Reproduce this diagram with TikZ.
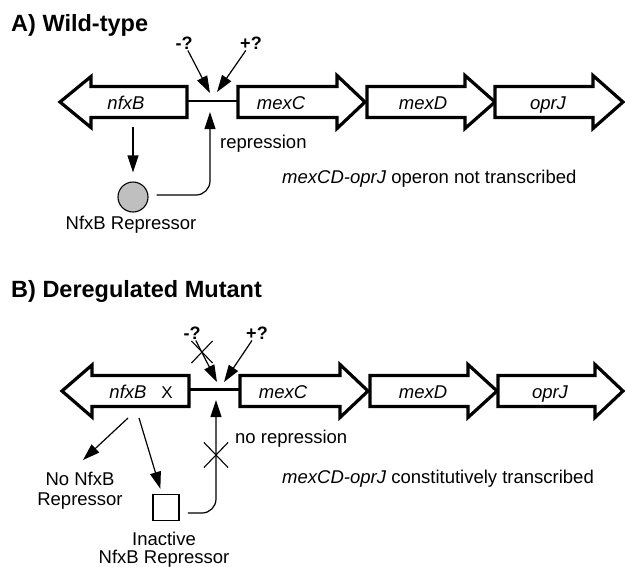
\documentclass[tikz,border=0pt]{standalone}
\usepackage{fontspec}
\setmainfont{Liberation Sans}
\usetikzlibrary{arrows.meta,shapes.misc}

\tikzset{
  gene/.style={draw, line width=3.2pt, fill=white},
  spacer/.style={line width=2.4pt},
  link/.style={line width=1.2pt, -{Triangle[length=17pt,width=11pt]}},
  txt/.style={font=\fontsize{18.5}{20}\selectfont, inner sep=0pt},
  gname/.style={txt, font=\fontsize{18.5}{20}\selectfont\itshape, anchor=base},
  effect/.style={font=\fontsize{18}{20}\selectfont\bfseries, inner sep=1pt},
  panel/.style={font=\fontsize{23.5}{26}\selectfont\bfseries, inner sep=0pt, anchor=base west},
  block/.style={cross out, draw, line width=1.1pt, inner sep=0pt},
}

\begin{document}
\begin{tikzpicture}[x=1pt, y=-1pt]
    \useasboundingbox (0,0) rectangle (625,566);

    % A) wild-type
    \node[panel] (titleA) at (11,31) {A) Wild-type};

    \draw[spacer] (187,101) -- (238,101);
    \draw[gene] (187,86.5) -- (91,86.5) -- (91,76.5) -- (60,102) -- (91,127.5) -- (91,117.5) -- (187,117.5) -- cycle;
    \foreach \xa/\xb/\xc in {238/337/365, 367/465/495, 495/593/623}
        \draw[gene] (\xa,86.5) -- (\xb,86.5) -- (\xb,75.5) -- (\xc,102) -- (\xb,128.5) -- (\xb,117.5) -- (\xa,117.5) -- cycle;

    \node[gname] (nfxA) at (126,109) {nfxB};
    \node[gname] (mexCA) at (281,109) {mexC};
    \node[gname] (mexDA) at (423,109) {mexD};
    \node[gname] (oprJA) at (548,109) {oprJ};

    \node[effect] (minusA) at (184,43) {-?};
    \node[effect] (plusA) at (251,43) {+?};
    \coordinate (hitA1) at (210,93);
    \coordinate (hitA2) at (217,92);
    \draw[link] (minusA) -- (hitA1);
    \draw[link] (plusA) -- (hitA2);

    \node[circle, draw, line width=1.1pt, fill=gray!50, minimum size=30pt, inner sep=0pt] (repA) at (133,197) {};
    \node[txt, anchor=base] (nameA) at (131,229) {NfxB Repressor};
    \coordinate (outA) at (133,127);
    \draw[link, shorten >=9pt] (outA) -- (repA);

    \coordinate (hitA3) at (210,112);
    \draw[link, rounded corners=14pt, shorten <=8pt] ([yshift=2pt]repA.east) -| (hitA3);
    \node[txt, anchor=base west] (effA) at (220,148.5) {repression};

    \node[txt, anchor=base west] (statusA) at (282,183.5) {\textit{mexCD-oprJ} operon not transcribed};

    % B) deregulated mutant
    \node[panel] (titleB) at (11,297) {B) Deregulated Mutant};

    \draw[spacer] (189,389.5) -- (240,389.5);
    \draw[gene] (189,375.5) -- (92,375.5) -- (92,365) -- (62,391) -- (92,417) -- (92,406.5) -- (189,406.5) -- cycle;
    \foreach \xa/\xb/\xc in {240/340/368, 370/468/497, 498/595/623}
        \draw[gene] (\xa,375.5) -- (\xb,375.5) -- (\xb,364.5) -- (\xc,391) -- (\xb,417.5) -- (\xb,406.5) -- (\xa,406.5) -- cycle;

    \node[gname] (nfxB) at (128,398) {nfxB};
    \node[txt, font=\fontsize{17}{19}\selectfont, anchor=base] (mutB) at (167,398) {X};
    \node[gname] (mexCB) at (283,398) {mexC};
    \node[gname] (mexDB) at (423,398) {mexD};
    \node[gname] (oprJB) at (550,398) {oprJ};

    \node[effect] (minusB) at (192,333) {-?};
    \node[effect] (plusB) at (257,333) {+?};
    \coordinate (hitB1) at (217,382);
    \coordinate (hitB2) at (224,382);
    \draw[link] (minusB) -- (hitB1);
    \draw[link] (plusB) -- (hitB2);
    \node[block, minimum width=20pt, minimum height=21pt] (stopB1) at (202,352) {};

    \node[draw, line width=1.8pt, minimum size=26pt, inner sep=0pt] (sqB) at (166,507.5) {};
    \node[txt, align=center] (lossB) at (80,491) {No NfxB\\Repressor};
    \node[txt, align=center] (inactB) at (164,549.5) {Inactive\\[-2.5pt]NfxB Repressor};

    \coordinate (outB1) at (128,418);
    \coordinate (outB2) at (139,418);
    \coordinate (tipNoB) at (83,460);
    \draw[link] (outB1) -- (tipNoB);
    \draw[link, shorten >=5pt] (outB2) -- (sqB);

    \coordinate (hitB3) at (216,400);
    \draw[link, rounded corners=14pt, shorten <=8pt] ([yshift=-5.5pt]sqB.east) -| (hitB3);
    \node[block, minimum width=23pt, minimum height=24pt] (stopB2) at (216,455) {};
    \node[txt, anchor=base west] (effB) at (235,443) {no repression};

    \node[txt, anchor=base west] (statusB) at (282,483) {\textit{mexCD-oprJ} constitutively transcribed};
\end{tikzpicture}
\end{document}
